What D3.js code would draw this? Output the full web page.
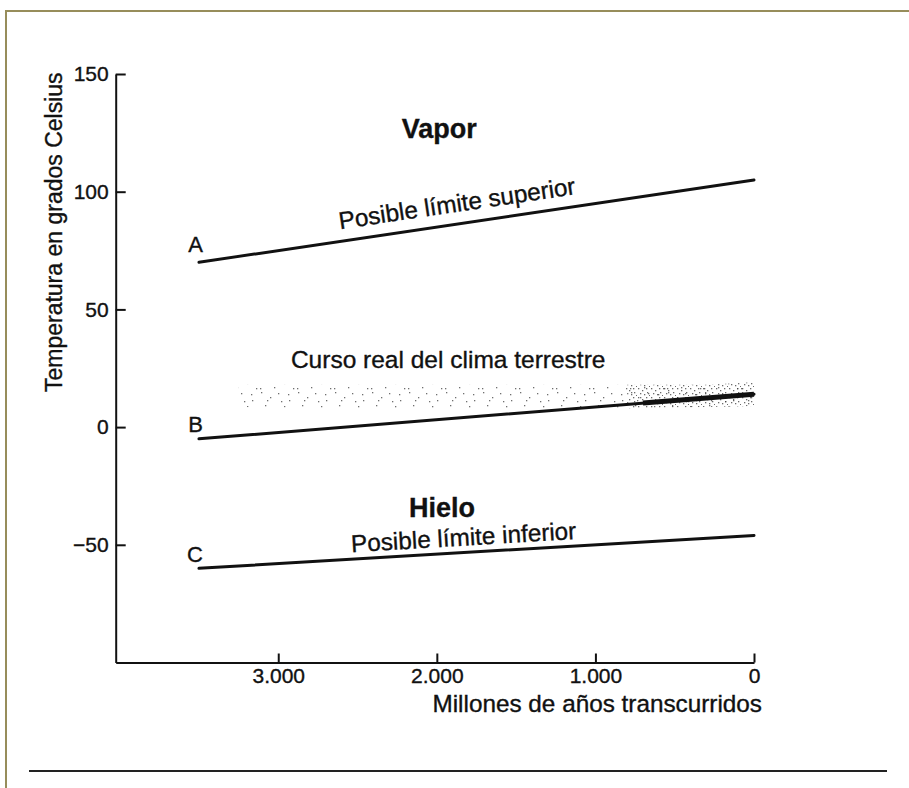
<!DOCTYPE html>
<html>
<head>
<meta charset="utf-8">
<script src="https://cdn.jsdelivr.net/npm/d3@7"></script>
<style>
  html, body { margin: 0; padding: 0; background: #fff; }
  svg { display: block; }
  text { font-family: "Liberation Sans", Arial, Helvetica, sans-serif; fill: #111; stroke: #111; stroke-width: 0.35px; }
</style>
</head>
<body>
<svg id="chart" width="909" height="788"></svg>
<script>
// ---- data ----
const lineYears = [3500, 0];
const upperLimit = [70, 105];      // A: Posible límite superior
const lineB = [-5, 14];            // B
const lowerLimit = [-60, -46];     // C: Posible límite inferior
const actualYears = [3250, 2400, 1600, 800, 300, 0];
const actualHigh = [18, 18, 18, 18, 18, 19];
const actualLow = [8.5, 8, 8, 8, 8.5, 9];
const xTicks = [3000, 2000, 1000, 0];
const yTicks = [150, 100, 50, 0, -50];
const xDomain = [4025, 0];
const yDomain = [-100, 150];

const svg = d3.select("#chart");

// frame
svg.append("rect").attr("x", 6).attr("y", 11).attr("width", 1200).attr("height", 1200)
  .attr("fill", "none").attr("stroke", "#978d5b").attr("stroke-width", 2);
svg.append("line").attr("x1", 29).attr("x2", 887).attr("y1", 771).attr("y2", 771)
  .attr("stroke", "#222").attr("stroke-width", 2);

const x = d3.scaleLinear().domain(xDomain).range([115.7, 754]);
const y = d3.scaleLinear().domain(yDomain).range([662.5, 74]);

const loc = d3.formatLocale({decimal: ",", thousands: ".", grouping: [3], currency: ["", ""], minus: "\u2212"});
const fmt = loc.format(",d");

// stipple patterns (texture only)
const defs = svg.append("defs");
function stipple(id, w, h, pts, color) {
  const p = defs.append("pattern").attr("id", id).attr("patternUnits", "userSpaceOnUse")
    .attr("width", w).attr("height", h);
  pts.forEach(d => p.append("rect").attr("x", d[0]).attr("y", d[1]).attr("width", 1.3).attr("height", 1.3).attr("fill", color));
}
stipple("stip", 37, 23, [[2,1],[11,6],[19,2],[30,9],[6,14],[15,19],[25,15],[34,20],[8,9],[22,10],[29,3],[1,20]], "#6f6f6f");
stipple("stipDense", 13, 9, [[1,1],[5,3],[9,1],[3,6],[10,5],[7,7],[12,8]], "#3a3a3a");

const actual = actualYears.map((t, i) => ({t, hi: actualHigh[i], lo: actualLow[i]}));
const area = d3.area().x(d => x(d.t)).y0(d => y(d.lo)).y1(d => y(d.hi));
svg.append("path").datum(actual).attr("d", area).attr("fill", "url(#stip)");
svg.append("path").datum(actual.filter(d => d.t <= 800)).attr("d", area).attr("fill", "url(#stipDense)").attr("opacity", 0.75);

// axes
const yAxis = d3.axisLeft(y).tickValues(yTicks).tickSizeInner(-10).tickSizeOuter(0).tickPadding(7)
  .tickFormat(d => fmt(d));
const gy = svg.append("g").attr("transform", `translate(${x(xDomain[0])},0)`).call(yAxis);
const xAxis = d3.axisBottom(x).tickValues(xTicks).tickSizeInner(-9).tickSizeOuter(0).tickPadding(6)
  .tickFormat(d => fmt(d));
const gx = svg.append("g").attr("transform", `translate(0,${y(yDomain[0])})`).call(xAxis);
[gx, gy].forEach(g => {
  g.select(".domain").attr("stroke", "#111").attr("stroke-width", 2);
  g.selectAll(".tick line").attr("stroke", "#111").attr("stroke-width", 2);
  g.selectAll(".tick text").attr("font-size", 21).attr("font-family", '"Liberation Sans", Arial, sans-serif').attr("fill", "#111");
});

svg.append("text").attr("x", 762).attr("y", 712).attr("text-anchor", "end")
  .attr("font-size", 24.3).text("Millones de años transcurridos");
svg.append("text").attr("transform", `translate(62,${(y(150) + y(-100)) / 2 - 136}) rotate(-90)`)
  .attr("text-anchor", "middle").attr("font-size", 23).text("Temperatura en grados Celsius");

// lines
const lineGen = d3.line().x(d => x(d.t)).y(d => y(d.v));
const series = [
  {name: "A", vals: upperLimit, labelDy: -10},
  {name: "B", vals: lineB, labelDy: -7},
  {name: "C", vals: lowerLimit, labelDy: -6}
];
series.forEach(s => {
  const pts = lineYears.map((t, i) => ({t, v: s.vals[i]}));
  svg.append("path").datum(pts).attr("d", lineGen).attr("fill", "none")
    .attr("stroke", "#111").attr("stroke-width", 3).attr("stroke-linecap", "round");
  svg.append("text").attr("x", x(lineYears[0]) + 4).attr("y", y(s.vals[0]) + s.labelDy)
    .attr("text-anchor", "end").attr("font-size", 22).text(s.name);
});
// thick end of B where it merges with the actual course
const bAt = t => lineB[0] + (lineB[1] - lineB[0]) * (lineYears[0] - t) / (lineYears[0] - lineYears[1]);
svg.append("path").datum([{t: 700, v: bAt(700)}, {t: 0, v: bAt(0)}]).attr("d", lineGen)
  .attr("fill", "none").attr("stroke", "#111").attr("stroke-width", 5);

// annotations along lines
function along(vals, t, off, txt, size) {
  const v = vals[0] + (vals[1] - vals[0]) * (lineYears[0] - t) / (lineYears[0] - lineYears[1]);
  const ang = Math.atan2(y(vals[1]) - y(vals[0]), x(lineYears[1]) - x(lineYears[0])) * 180 / Math.PI;
  const px = x(t), py = y(v);
  const rad = ang * Math.PI / 180;
  svg.append("text")
    .attr("transform", `translate(${px + off * Math.sin(rad)},${py - off * Math.cos(rad)}) rotate(${ang})`)
    .attr("font-size", size).text(txt);
}
along(upperLimit, 2600, 12, "Posible límite superior", 24.3);
along(lowerLimit, 2535, 7, "Posible límite inferior", 24.3);

svg.append("text").attr("x", x(2920)).attr("y", y(25)).attr("font-size", 24.5).text("Curso real del clima terrestre");
svg.append("text").attr("x", x(1985)).attr("y", y(123)).attr("text-anchor", "middle")
  .attr("font-size", 27).attr("font-weight", "bold").text("Vapor");
svg.append("text").attr("x", x(1967)).attr("y", y(-38)).attr("text-anchor", "middle")
  .attr("font-size", 27).attr("font-weight", "bold").text("Hielo");
</script>
</body>
</html>
